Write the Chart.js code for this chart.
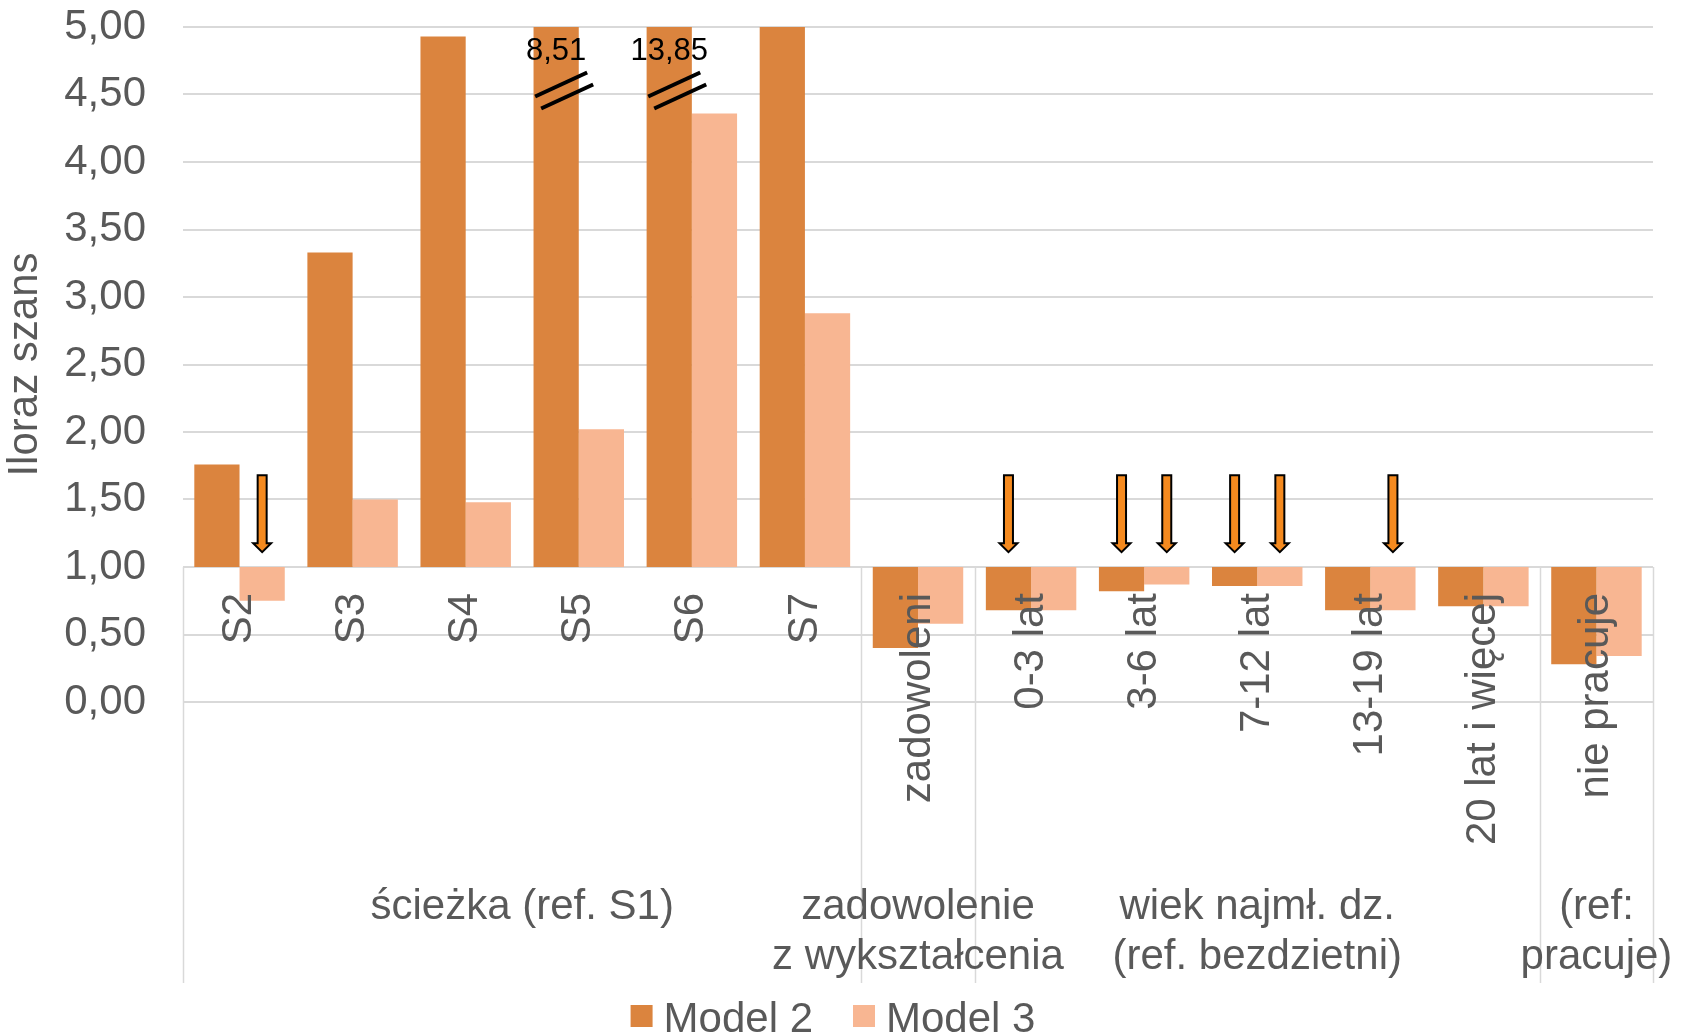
<!DOCTYPE html>
<html>
<head>
<meta charset="utf-8">
<script src="https://cdn.jsdelivr.net/npm/chart.js@4.4.1/dist/chart.umd.min.js"></script>
<style>
  html, body { margin: 0; padding: 0; background: #fff; }
  #wrap { width: 1685px; height: 1035px; }
</style>
</head>
<body>
<div id="wrap"><canvas id="chart"></canvas></div>
<script>
// data (odds ratios, base = 1)
const categories = ["S2", "S3", "S4", "S5", "S6", "S7", "zadowoleni", "0-3 lat", "3-6 lat", "7-12 lat", "13-19 lat", "20 lat i więcej", "nie pracuje"];
const model2 = [1.76, 3.33, 4.93, 8.51, 13.85, 5.00, 0.40, 0.68, 0.82, 0.86, 0.68, 0.71, 0.28];
const model3 = [0.75, 1.50, 1.48, 2.02, 4.36, 2.88, 0.58, 0.68, 0.87, 0.86, 0.68, 0.71, 0.34];
const seriesNames = ["Model 2", "Model 3"];

const groupLabels = [["ścieżka (ref. S1)"], ["zadowolenie", "z wykształcenia"], ["wiek najmł. dz.", "(ref. bezdzietni)"], ["(ref:", "pracuje)"]];
const groupFirst = [0, 6, 7, 12];
const groupLast = [5, 6, 11, 12];

// arrows marking bars (category index, series index)
const arrowCats = [0, 7, 8, 8, 9, 9, 10];
const arrowSeries = [1, 0, 0, 1, 0, 1, 1];

const BASE = 1;
const Y_MIN = 0;
const Y_MAX = 5;
const Y_STEP = 0.5;

const FONT = "'Liberation Sans', Arial, sans-serif";
const GREY = "#595959";
const COLORS = ["#DB843E", "#F8B692"];

function fmt(v) {
  return v.toFixed(2).replace(".", ",");
}

const extrasPlugin = {
  id: "extras",
  afterDatasetsDraw(chart) {
    const ctx = chart.ctx;
    const y = chart.scales.y;

    // broken bars: value label + double slash
    [model2, model3].forEach((vals, d) => {
      const meta = chart.getDatasetMeta(d);
      vals.forEach((v, i) => {
        if (v <= Y_MAX) return;
        const bar = meta.data[i];
        ctx.save();
        ctx.fillStyle = "#000";
        ctx.font = "31px " + FONT;
        ctx.textAlign = "center";
        ctx.textBaseline = "middle";
        ctx.fillText(fmt(v), bar.x, y.getPixelForValue(4.82));
        const cx = bar.x + 8;
        const cy = y.getPixelForValue(4.53);
        ctx.strokeStyle = "#000";
        ctx.lineWidth = 4;
        [-6, 6].forEach(off => {
          ctx.beginPath();
          ctx.moveTo(cx - 26 + off / 2, cy + 12 + off);
          ctx.lineTo(cx + 26 + off / 2, cy - 12 + off);
          ctx.stroke();
        });
        ctx.restore();
      });
    });

    // down arrows
    arrowCats.forEach((c, k) => {
      const bar = chart.getDatasetMeta(arrowSeries[k]).data[c];
      const x = bar.x;
      const top = y.getPixelForValue(1.68);
      const tip = y.getPixelForValue(1.11);
      const neck = tip - 9;
      ctx.save();
      ctx.beginPath();
      ctx.moveTo(x - 4.5, top);
      ctx.lineTo(x + 4.5, top);
      ctx.lineTo(x + 4.5, neck);
      ctx.lineTo(x + 9, neck);
      ctx.lineTo(x, tip);
      ctx.lineTo(x - 9, neck);
      ctx.lineTo(x - 4.5, neck);
      ctx.closePath();
      ctx.fillStyle = "#F58A1F";
      ctx.fill();
      ctx.lineWidth = 2;
      ctx.strokeStyle = "#000";
      ctx.stroke();
      ctx.restore();
    });
  },
  afterDraw(chart) {
    const ctx = chart.ctx;
    const x = chart.scales.x;
    const y = chart.scales.y;
    const area = chart.chartArea;
    const w = area.width / categories.length;
    const baseY = y.getPixelForValue(BASE);
    const sepBottom = 983;

    ctx.save();
    // group separators
    ctx.strokeStyle = "#d9d9d9";
    ctx.lineWidth = 1.5;
    const edges = [groupFirst[0]].concat(groupLast.map(g => g + 1));
    edges.forEach(e => {
      const px = Math.round(area.left + e * w) + 0.5;
      ctx.beginPath();
      ctx.moveTo(px, baseY);
      ctx.lineTo(px, sepBottom);
      ctx.stroke();
    });

    // category labels, rotated, ending under the base line
    ctx.fillStyle = GREY;
    ctx.font = "42px " + FONT;
    categories.forEach((lab, i) => {
      const cx = x.getPixelForValue(i);
      ctx.save();
      ctx.translate(cx, baseY + 26);
      ctx.rotate(-Math.PI / 2);
      ctx.textAlign = "right";
      ctx.textBaseline = "middle";
      ctx.fillText(lab, 0, 0);
      ctx.restore();
    });

    // group labels
    ctx.textAlign = "center";
    ctx.textBaseline = "middle";
    groupLabels.forEach((lines, g) => {
      const cx = (x.getPixelForValue(groupFirst[g]) + x.getPixelForValue(groupLast[g])) / 2;
      lines.forEach((t, l) => {
        ctx.fillText(t, cx, 907 + l * 50);
      });
    });

    // legend
    const box = 22, gapText = 11, gapItem = 40;
    const widths = seriesNames.map(n => ctx.measureText(n).width);
    let total = 0;
    widths.forEach((tw, k) => { total += box + gapText + tw + (k ? gapItem : 0); });
    let lx = 833 - total / 2;
    const ly = 1020;
    ctx.textAlign = "left";
    seriesNames.forEach((n, k) => {
      ctx.fillStyle = COLORS[k];
      ctx.fillRect(lx, ly - box / 2 - 4, box, box);
      ctx.fillStyle = GREY;
      ctx.fillText(n, lx + box + gapText, ly);
      lx += box + gapText + widths[k] + gapItem;
    });
    ctx.restore();
  }
};

const ctx = document.getElementById("chart").getContext("2d");
new Chart(ctx, {
  type: "bar",
  data: {
    labels: categories,
    datasets: [
      {
        label: seriesNames[0],
        data: model2.map(v => [BASE, v]),
        backgroundColor: COLORS[0],
        borderWidth: 0,
        categoryPercentage: 0.8,
        barPercentage: 1.0
      },
      {
        label: seriesNames[1],
        data: model3.map(v => [BASE, v]),
        backgroundColor: COLORS[1],
        borderWidth: 0,
        categoryPercentage: 0.8,
        barPercentage: 1.0
      }
    ]
  },
  options: {
    responsive: true,
    maintainAspectRatio: false,
    animation: false,
    layout: { padding: { top: 27, right: 32, bottom: 0, left: 0 } },
    plugins: {
      tooltip: { enabled: false },
      legend: { display: false }
    },
    scales: {
      x: {
        grid: { display: false },
        border: { display: false },
        ticks: { display: false },
        afterFit(scale) {
          scale.height = 333;
          scale.paddingLeft = 0;
          scale.paddingRight = 0;
        }
      },
      y: {
        min: Y_MIN,
        max: Y_MAX,
        ticks: {
          stepSize: Y_STEP,
          color: GREY,
          font: { family: FONT, size: 42 },
          padding: 37,
          callback: v => fmt(v)
        },
        grid: { color: "#d9d9d9", lineWidth: 2, drawTicks: false },
        border: { display: false },
        title: {
          display: true,
          text: "Iloraz szans",
          color: GREY,
          font: { family: FONT, size: 42 },
          padding: 0
        },
        afterFit(scale) {
          scale.width = 183;
          scale.paddingTop = 0;
          scale.paddingBottom = 0;
        }
      }
    }
  },
  plugins: [extrasPlugin]
});
</script>
</body>
</html>
